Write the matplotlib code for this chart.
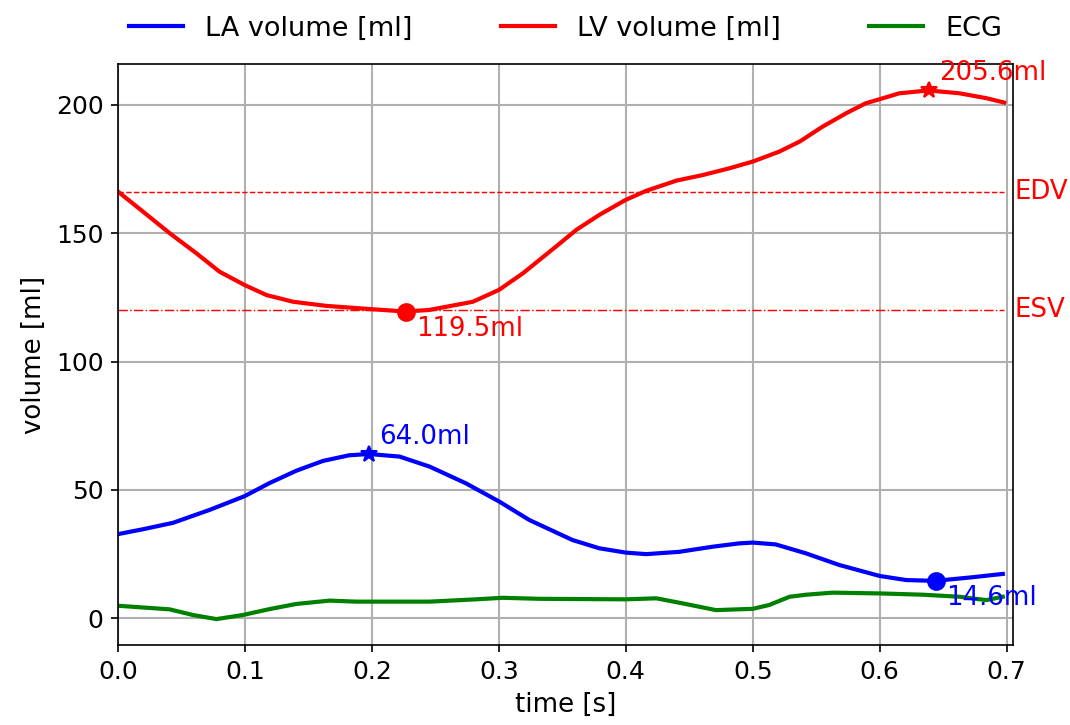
import matplotlib
matplotlib.use("Agg")
import matplotlib.pyplot as plt
import matplotlib.transforms as mtransforms
import numpy as np

# LV volume curve [ml]
t_lv = [0.0, 0.0197, 0.0407, 0.0617, 0.080, 0.0998, 0.117, 0.138, 0.164, 0.200,
        0.2265, 0.245, 0.2795, 0.300, 0.319, 0.345, 0.361, 0.379, 0.400, 0.416,
        0.440, 0.461, 0.4817, 0.500, 0.521, 0.537, 0.555, 0.5735, 0.589, 0.600,
        0.6155, 0.6386, 0.6628, 0.684, 0.698]
lv_vol = [166.2, 158.4, 150.0, 142.2, 135.0, 129.8, 125.9, 123.3, 121.7, 120.4,
          119.5, 120.1, 123.3, 127.9, 134.4, 144.8, 151.3, 157.1, 163.0, 166.5,
          170.5, 172.7, 175.3, 177.9, 181.8, 185.7, 191.5, 196.7, 200.6, 202.2,
          204.5, 205.6, 204.5, 202.6, 200.9]

# LA volume curve [ml]
t_la = [0.0, 0.0197, 0.0433, 0.072, 0.0998, 0.119, 0.1405, 0.1614, 0.182, 0.1977,
        0.2218, 0.2454, 0.274, 0.3006, 0.324, 0.348, 0.358, 0.379, 0.400, 0.416,
        0.442, 0.4685, 0.4895, 0.500, 0.518, 0.542, 0.568, 0.600, 0.621, 0.644,
        0.673, 0.697]
la_vol = [32.8, 34.7, 37.2, 42.2, 47.6, 52.6, 57.5, 61.3, 63.5, 64.0,
          63.0, 59.1, 52.6, 45.4, 38.3, 32.8, 30.5, 27.3, 25.6, 25.0,
          25.9, 27.9, 29.2, 29.5, 28.8, 25.3, 20.8, 16.5, 14.9, 14.6,
          16.0, 17.3]

# ECG trace (scaled)
t_ecg = [0.0, 0.0407, 0.059, 0.0775, 0.0984, 0.1194, 0.1405, 0.1667, 0.1877, 0.2454,
         0.282, 0.303, 0.332, 0.400, 0.424, 0.445, 0.471, 0.500, 0.513, 0.529,
         0.542, 0.563, 0.600, 0.634, 0.663, 0.684, 0.697]
ecg = [4.9, 3.5, 1.3, -0.3, 1.3, 3.6, 5.6, 6.9, 6.5, 6.5,
       7.4, 8.0, 7.6, 7.4, 7.8, 5.8, 3.2, 3.7, 5.2, 8.4,
       9.2, 10.0, 9.7, 9.2, 8.4, 7.1, 8.4]

EDV = 166.0
ESV = 120.0

plt.rcParams['font.size'] = 12.5

fig = plt.figure(figsize=(1070 / 150, 725 / 150), dpi=150)
ax = fig.add_axes([0.1103, 0.1103, 0.8364, 0.8014])

ax.plot(t_la, la_vol, color='blue', lw=2, label='LA volume [ml]')
ax.plot(t_lv, lv_vol, color='red', lw=2, label='LV volume [ml]')
ax.plot(t_ecg, ecg, color='green', lw=2, label='ECG')

# EDV / ESV reference lines
ax.hlines(EDV, 0, t_lv[-1], colors='red', linestyles='--', lw=0.7)
ax.hlines(ESV, 0, t_lv[-1], colors='red', linestyles='-.', lw=0.7)
trans = mtransforms.blended_transform_factory(ax.transAxes, ax.transData)
ax.text(1.002, EDV, 'EDV', color='red', transform=trans, ha='left', va='center')
ax.text(1.002, ESV, 'ESV', color='red', transform=trans, ha='left', va='center')

# min / max markers with value labels
for t, v, col in [(t_lv, lv_vol, 'red'), (t_la, la_vol, 'blue')]:
    i_max = int(np.argmax(v))
    i_min = int(np.argmin(v))
    ax.plot(t[i_max], v[i_max], '*', color=col, ms=8)
    ax.annotate(f"{v[i_max]:.1f}ml", (t[i_max], v[i_max]), xytext=(5, 5),
                textcoords='offset points', color=col, ha='left', va='baseline')
    ax.plot(t[i_min], v[i_min], 'o', color=col, ms=8)
    ax.annotate(f"{v[i_min]:.1f}ml", (t[i_min], v[i_min]), xytext=(5, -2),
                textcoords='offset points', color=col, ha='left', va='top')

ax.set_xlim(0, 0.705)
ax.set_ylim(-10.4, 215.9)
ax.set_xlabel('time [s]')
ax.set_ylabel('volume [ml]')
ax.tick_params(labelsize=12)
ax.grid(True, color='#b0b0b0', lw=1)
ax.legend(loc='lower left', bbox_to_anchor=(0, 1.02, 1, 0.1), ncol=3,
          mode='expand', frameon=False, fontsize=13, borderaxespad=0)

plt.savefig('out.png', dpi=150)
